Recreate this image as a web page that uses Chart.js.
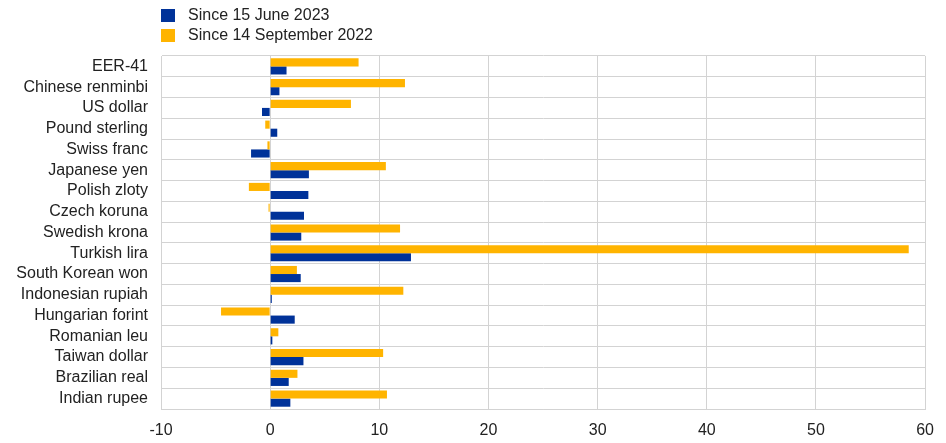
<!DOCTYPE html>
<html>
<head>
<meta charset="utf-8">
<script src="https://cdn.jsdelivr.net/npm/chart.js@4/dist/chart.umd.min.js"></script>
<style>
html,body{margin:0;padding:0;background:#fff;}
#wrap{position:relative;width:946px;height:443px;}
#legend{position:absolute;left:161px;top:5px;font-family:"Liberation Sans",Arial,sans-serif;font-size:16px;color:#222;}
#legend .item{display:flex;align-items:center;height:20px;}
#legend .box{width:14px;height:13px;margin-right:13px;}
</style>
</head>
<body>
<div id="wrap">
<canvas id="c" width="946" height="443"></canvas>
<div id="legend"></div>
</div>
<script>
const categories = ["EER-41","Chinese renminbi","US dollar","Pound sterling","Swiss franc","Japanese yen","Polish zloty","Czech koruna","Swedish krona","Turkish lira","South Korean won","Indonesian rupiah","Hungarian forint","Romanian leu","Taiwan dollar","Brazilian real","Indian rupee"];
const sinceJune2023 = [1.5, 0.85, -0.75, 0.65, -1.75, 3.55, 3.5, 3.1, 2.85, 12.9, 2.8, 0.15, 2.25, 0.2, 3.05, 1.7, 1.85];
const sinceSept2022 = [8.1, 12.35, 7.4, -0.45, -0.25, 10.6, -1.95, -0.15, 11.9, 58.5, 2.45, 12.2, -4.5, 0.75, 10.35, 2.5, 10.7];
const xTicks = [-10, 0, 10, 20, 30, 40, 50, 60];
const seriesLabels = ["Since 15 June 2023", "Since 14 September 2022"];
const seriesColors = ["#003299", "#ffb400"];

const lg = document.getElementById('legend');
seriesLabels.forEach((l, i) => {
  const d = document.createElement('div'); d.className = 'item';
  const b = document.createElement('span'); b.className = 'box'; b.style.background = seriesColors[i];
  const t = document.createElement('span'); t.textContent = l;
  d.appendChild(b); d.appendChild(t); lg.appendChild(d);
});

const font = {family: '"Liberation Sans", Arial, sans-serif', size: 16};
new Chart(document.getElementById('c'), {
  type: 'bar',
  data: {
    labels: categories,
    datasets: [
      {label: seriesLabels[1], data: sinceSept2022, backgroundColor: seriesColors[1], categoryPercentage: 0.78, barPercentage: 1.0},
      {label: seriesLabels[0], data: sinceJune2023, backgroundColor: seriesColors[0], categoryPercentage: 0.78, barPercentage: 1.0}
    ]
  },
  options: {
    indexAxis: 'y',
    responsive: false,
    animation: false,
    layout: {padding: {top: 56, right: 19, bottom: 0, left: 0}},
    plugins: {legend: {display: false}, tooltip: {enabled: false}},
    scales: {
      x: {
        min: -10, max: 60,
        afterBuildTicks: (s) => { s.ticks = xTicks.map(v => ({value: v})); },
        afterFit: (s) => { s.height = 34; },
        grid: {color: '#d3d3d3', drawTicks: false, lineWidth: 1},
        border: {color: '#d3d3d3'},
        ticks: {font: font, color: '#222', padding: 12, maxRotation: 0}
      },
      y: {
        afterFit: (s) => { s.width = 161; },
        grid: {color: '#d3d3d3', drawTicks: false, offset: true, lineWidth: 1},
        border: {color: '#d3d3d3'},
        ticks: {font: font, color: '#222', padding: 13, autoSkip: false}
      }
    }
  }
});
</script>
</body>
</html>
